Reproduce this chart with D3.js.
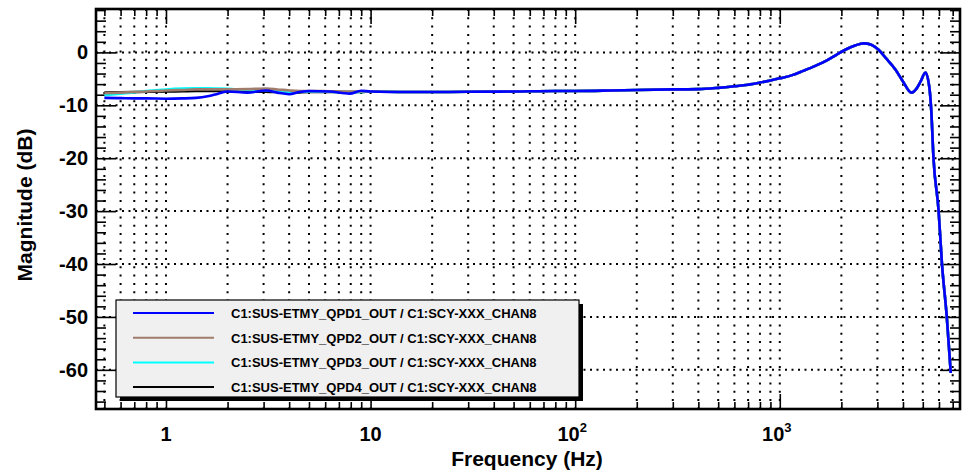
<!DOCTYPE html>
<html>
<head>
<meta charset="utf-8">
<script src="https://cdn.jsdelivr.net/npm/d3@7"></script>
<style>
  body { margin: 0; background: #fff; }
  text { font-family: "Liberation Sans", Arial, Helvetica, sans-serif; font-weight: bold; }
</style>
</head>
<body>
<svg width="978" height="473"></svg>
<script>
// low frequency part (channels differ here)
var freqLow = [0.5, 0.6, 0.7, 0.8, 1.0, 1.2, 1.4, 1.6, 1.8, 2.0, 2.5, 3.1, 3.5, 4.0, 4.5, 5.0, 6.3, 7.9, 9.0];
var qpd1Low = [-8.6, -8.65, -8.7, -8.7, -8.75, -8.7, -8.6, -8.3, -7.8, -7.4, -7.6, -7.2, -7.6, -7.9, -7.5, -7.3, -7.4, -7.8, -7.25];
var qpd2Low = [-7.7, -7.6, -7.5, -7.4, -7.2, -7.1, -7.0, -7.0, -7.0, -7.0, -6.95, -6.85, -7.0, -7.2, -7.3, -7.3, -7.35, -7.4, -7.4];
var qpd3Low = [-8.1, -7.8, -7.55, -7.3, -7.0, -6.85, -6.8, -6.8, -6.85, -6.9, -7.1, -7.2, -7.35, -7.5, -7.45, -7.4, -7.45, -7.5, -7.5];
var qpd4Low = [-7.6, -7.55, -7.5, -7.45, -7.4, -7.35, -7.3, -7.3, -7.3, -7.35, -7.4, -7.45, -7.5, -7.65, -7.55, -7.5, -7.5, -7.5, -7.5];

// high frequency part (all four channels overlap)
var freqHigh = [10, 15, 20, 30, 50, 80, 100, 150, 200, 300, 400, 500, 600, 700, 800, 900, 1000, 1150, 1300, 1500, 1700, 1900, 2100, 2350, 2570, 2800, 3040, 3300, 3680, 4000, 4400, 4650, 4880, 5150, 5390, 5500, 5640, 5970, 6200, 6550, 6850];
var magHigh = [-7.4, -7.5, -7.5, -7.45, -7.4, -7.3, -7.3, -7.2, -7.1, -7.0, -6.95, -6.7, -6.4, -6.1, -5.7, -5.3, -4.9, -4.3, -3.5, -2.5, -1.5, -0.4, 0.55, 1.35, 1.7, 1.45, 0.5, -1.1, -3.3, -5.5, -7.6, -6.9, -5.5, -3.8, -6.8, -11, -20, -29.8, -39.8, -50, -60.6];

var names = ["C1:SUS-ETMY_QPD1_OUT / C1:SCY-XXX_CHAN8", "C1:SUS-ETMY_QPD2_OUT / C1:SCY-XXX_CHAN8",
             "C1:SUS-ETMY_QPD3_OUT / C1:SCY-XXX_CHAN8", "C1:SUS-ETMY_QPD4_OUT / C1:SCY-XXX_CHAN8"];
var colors = ["#0000ff", "#a07c6c", "#00ffff", "#000000"];
var lowSets = [qpd1Low, qpd2Low, qpd3Low, qpd4Low];

var xMajor = [1, 10, 100, 1000];
var xLabels = [["1", ""], ["10", ""], ["10", "2"], ["10", "3"]];
var yMajor = [-60, -50, -40, -30, -20, -10, 0];

var svg = d3.select('svg');
var pl = 96, pr = 960, pt = 9, pb = 409;

var x = d3.scaleLog().domain([0.455, 7600]).range([pl, pr]);
var y = d3.scaleLinear().domain([-67.4, 8.2]).range([pb, pt]);

var xMinor = [];
[0.1, 1, 10, 100, 1000].forEach(function(dec) {
    for (var k = 2; k <= 9; k++) {
        var v = dec * k;
        if (v > 0.455 && v < 7600) xMinor.push(v);
    }
});
var yMinor = d3.range(-66, 9, 2).filter(v => v % 10 !== 0);

// grid
var grid = svg.append('g').attr('stroke', 'black').attr('stroke-width', 2);
grid.selectAll('.vg').data(xMajor.concat(xMinor)).enter().append('line')
    .attr('x1', d => x(d)).attr('x2', d => x(d)).attr('y1', pt).attr('y2', pb)
    .attr('stroke-dasharray', '2,6.3');
grid.selectAll('.hg').data(yMajor).enter().append('line')
    .attr('x1', pl).attr('x2', pr).attr('y1', d => y(d)).attr('y2', d => y(d))
    .attr('stroke-dasharray', '2,4.5');

// ticks via axes (pointing inwards)
function styleAxis(g) {
    g.select('.domain').remove();
    g.selectAll('line').attr('stroke', 'black').attr('stroke-width', 1.6);
}
svg.append('g').attr('transform', 'translate(0,' + pb + ')')
    .call(d3.axisBottom(x).tickValues(xMajor).tickSize(-15).tickFormat('')).call(styleAxis);
svg.append('g').attr('transform', 'translate(0,' + pb + ')')
    .call(d3.axisBottom(x).tickValues(xMinor).tickSize(-7).tickFormat('')).call(styleAxis);
svg.append('g').attr('transform', 'translate(0,' + pt + ')')
    .call(d3.axisTop(x).tickValues(xMajor).tickSize(-15).tickFormat('')).call(styleAxis);
svg.append('g').attr('transform', 'translate(0,' + pt + ')')
    .call(d3.axisTop(x).tickValues(xMinor).tickSize(-7).tickFormat('')).call(styleAxis);
svg.append('g').attr('transform', 'translate(' + pl + ',0)')
    .call(d3.axisLeft(y).tickValues(yMajor).tickSize(-20).tickFormat('')).call(styleAxis);
svg.append('g').attr('transform', 'translate(' + pl + ',0)')
    .call(d3.axisLeft(y).tickValues(yMinor).tickSize(-10).tickFormat('')).call(styleAxis);
svg.append('g').attr('transform', 'translate(' + pr + ',0)')
    .call(d3.axisRight(y).tickValues(yMajor).tickSize(-20).tickFormat('')).call(styleAxis);
svg.append('g').attr('transform', 'translate(' + pr + ',0)')
    .call(d3.axisRight(y).tickValues(yMinor).tickSize(-10).tickFormat('')).call(styleAxis);

// curves
svg.append('clipPath').attr('id', 'clip').append('rect')
    .attr('x', pl).attr('y', pt).attr('width', pr - pl).attr('height', pb - pt);

var line = d3.line().x(d => x(d[0])).y(d => y(d[1])).curve(d3.curveMonotoneX);
var series = lowSets.map(function(low, i) {
    var pts = freqLow.map((f, j) => [f, low[j]]).concat(freqHigh.map((f, j) => [f, magHigh[j]]));
    return {name: names[i], color: colors[i], pts: pts};
});
svg.append('g').attr('clip-path', 'url(#clip)').selectAll('path')
    .data(series.slice().reverse()).enter().append('path')
    .attr('d', d => line(d.pts)).attr('fill', 'none')
    .attr('stroke', d => d.color).attr('stroke-width', 2.6).attr('stroke-linejoin', 'round');

// frame
svg.append('rect').attr('x', pl).attr('y', pt).attr('width', pr - pl).attr('height', pb - pt)
    .attr('fill', 'none').attr('stroke', 'black').attr('stroke-width', 2.6);

// tick labels
svg.append('g').selectAll('text').data(yMajor).enter().append('text')
    .attr('x', 88).attr('y', d => y(d) + 7).attr('text-anchor', 'end')
    .attr('font-size', '20px').text(d => d);

var xl = svg.append('g').selectAll('text').data(xMajor).enter().append('text')
    .attr('x', (d, i) => x(d) + (xLabels[i][1] ? -3 : 0)).attr('y', 441).attr('text-anchor', 'middle')
    .attr('font-size', '20px');
xl.append('tspan').text((d, i) => xLabels[i][0]);
xl.append('tspan').attr('dy', -9).attr('font-size', '13px').text((d, i) => xLabels[i][1]);

// axis titles
svg.append('text').attr('x', 527).attr('y', 466).attr('text-anchor', 'middle')
    .attr('font-size', '21px').text('Frequency (Hz)');
svg.append('text').attr('transform', 'translate(32,205) rotate(-90)').attr('text-anchor', 'middle')
    .attr('font-size', '21px').text('Magnitude (dB)');

// legend
var lg = svg.append('g');
lg.append('rect').attr('x', 120).attr('y', 304).attr('width', 463).attr('height', 97).attr('fill', 'black');
lg.append('rect').attr('x', 116).attr('y', 300).attr('width', 463).attr('height', 97)
    .attr('fill', '#f0f0f0').attr('stroke', 'black').attr('stroke-width', 1.2);
var rows = lg.selectAll('.row').data(series).enter().append('g')
    .attr('transform', (d, i) => 'translate(0,' + (313 + i * 24.7) + ')');
rows.append('line').attr('x1', 133).attr('x2', 214).attr('y1', 0).attr('y2', 0)
    .attr('stroke', d => d.color).attr('stroke-width', 2);
rows.append('text').attr('x', 231).attr('y', 5).attr('font-size', '13px').text(d => d.name);
</script>
</body>
</html>
